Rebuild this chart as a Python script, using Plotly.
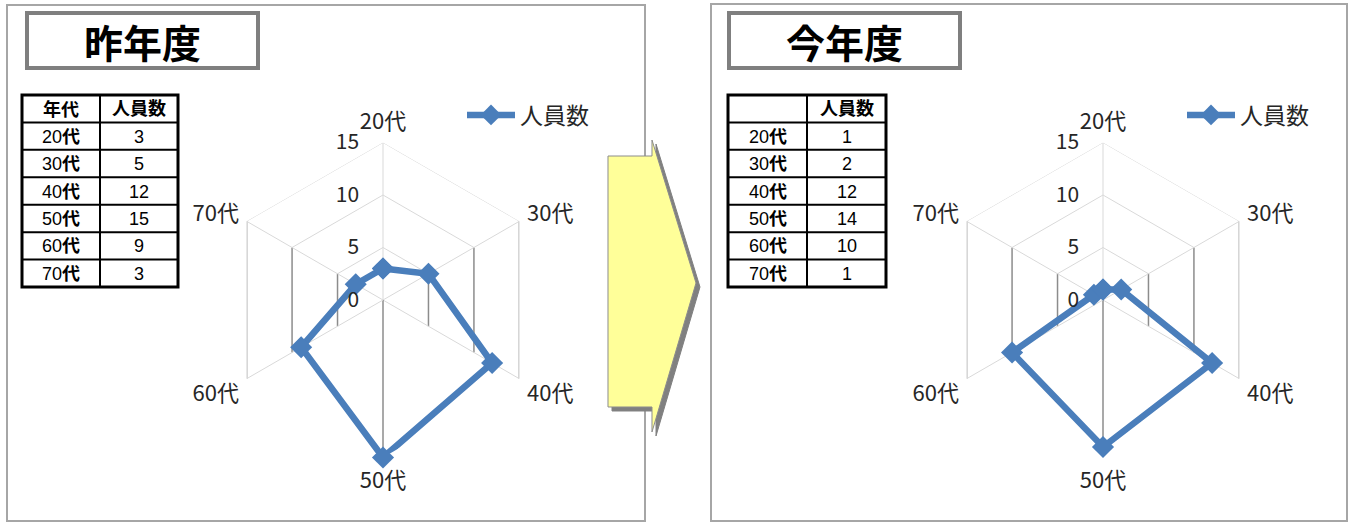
import plotly.graph_objects as go

# ---------------- data ----------------
categories = ["20代", "30代", "40代", "50代", "60代", "70代"]
last_year = [3, 5, 12, 15, 9, 3]
this_year = [1, 2, 12, 14, 10, 1]
tick_vals = [0, 5, 10, 15]
series_name = "人員数"
panel_titles = ["昨年度", "今年度"]
table_head_last = ["年代", "人員数"]
table_head_this = ["", "人員数"]

# ---------------- helpers ----------------
W, H = 1349, 523


def fx(x):
    return x / W


def fy(y):
    return 1 - y / H


LINE = "#4a7ebb"
LIGHT = "#d9d9d9"
DARK = "#8c8c8c"
CJK = "Noto Sans CJK JP"
TBL_FONT = "Liberation Sans, " + CJK

fig = go.Figure()


def add_radar(polar, values, legend):
    for r in tick_vals[1:]:
        fig.add_trace(go.Scatterpolar(
            r=[r, r, r], theta=[categories[5], categories[0], categories[1]],
            mode="lines", line=dict(color=LIGHT, width=1),
            subplot=polar, showlegend=False, hoverinfo="skip"))
        for a, b in [(1, 2), (4, 5)]:
            fig.add_trace(go.Scatterpolar(
                r=[r, r], theta=[categories[a], categories[b]],
                mode="lines", line=dict(color=DARK, width=1.5),
                subplot=polar, showlegend=False, hoverinfo="skip"))
    for i, c in enumerate(categories):
        color = DARK if i == 3 else LIGHT
        fig.add_trace(go.Scatterpolar(
            r=[tick_vals[0], tick_vals[-1]], theta=[c, c],
            mode="lines", line=dict(color=color, width=1.5 if i == 3 else 1),
            subplot=polar, showlegend=False, hoverinfo="skip"))
    fig.add_trace(go.Scatterpolar(
        r=values + [values[0]], theta=categories + [categories[0]],
        mode="lines+markers", line=dict(color=LINE, width=6.5),
        marker=dict(symbol="diamond", size=17, color=LINE),
        name=series_name, legend=legend, subplot=polar, showlegend=True))


add_radar("polar", last_year, "legend")
add_radar("polar2", this_year, "legend2")

shapes = []
annotations = []

# panel borders
for (x0, y0, x1, y1) in [(7, 5, 645, 521), (711, 4, 1347, 521)]:
    shapes.append(dict(type="rect", xref="paper", yref="paper", layer="below",
                       x0=fx(x0), x1=fx(x1), y0=fy(y1), y1=fy(y0),
                       line=dict(color="#a6a6a6", width=2)))

# title boxes
for (x0, x1), t in zip([(27, 258), (729, 960)], panel_titles):
    shapes.append(dict(type="rect", xref="paper", yref="paper",
                       x0=fx(x0), x1=fx(x1), y0=fy(68), y1=fy(13),
                       line=dict(color="#7f7f7f", width=4), fillcolor="white"))
    annotations.append(dict(xref="paper", yref="paper", x=fx((x0 + x1) / 2), y=fy(41),
                            text="<b>" + t + "</b>", showarrow=False,
                            xanchor="center", yanchor="middle",
                            font=dict(family=CJK, size=39, color="black")))


# tables (grid lines + text)
def add_table(x0, xm, x1, y0, y1, head, values):
    n = len(categories) + 1
    rh = (y1 - y0) / n
    for i in range(1, n):
        y = y0 + i * rh
        shapes.append(dict(type="line", xref="paper", yref="paper",
                           x0=fx(x0), x1=fx(x1), y0=fy(y), y1=fy(y),
                           line=dict(color="black", width=2)))
    shapes.append(dict(type="line", xref="paper", yref="paper",
                       x0=fx(xm), x1=fx(xm), y0=fy(y0), y1=fy(y1),
                       line=dict(color="black", width=2)))
    shapes.append(dict(type="rect", xref="paper", yref="paper",
                       x0=fx(x0), x1=fx(x1), y0=fy(y1), y1=fy(y0),
                       line=dict(color="black", width=3)))
    col0 = ["<b>" + head[0] + "</b>" if head[0] else ""] + \
        [c[:-1] + "<b>" + c[-1] + "</b>" for c in categories]
    col1 = ["<b>" + head[1] + "</b>"] + [str(v) for v in values]
    for i in range(n):
        yc = y0 + (i + 0.5) * rh
        for xc, txt in [((x0 + xm) / 2, col0[i]), ((xm + x1) / 2, col1[i])]:
            if txt:
                annotations.append(dict(xref="paper", yref="paper", x=fx(xc), y=fy(yc + 0.5),
                                        text=txt, showarrow=False,
                                        xanchor="center", yanchor="middle",
                                        font=dict(family=TBL_FONT, size=18, color="black")))


add_table(22, 100, 178, 95, 287, table_head_last, last_year)
add_table(728, 807, 886, 95, 287, table_head_this, this_year)

# arrow
arrow_pts = [(608, 156), (652, 156), (652, 140), (696, 283), (652, 432), (652, 407), (608, 407)]


def path(pts, dx=0, dy=0):
    return "M " + " L ".join(f"{fx(x + dx):.5f},{fy(y + dy):.5f}" for x, y in pts) + " Z"


shapes.append(dict(type="path", xref="paper", yref="paper", path=path(arrow_pts, 4, 4),
                   fillcolor="#808080", line=dict(color="#808080", width=1)))
shapes.append(dict(type="path", xref="paper", yref="paper", path=path(arrow_pts),
                   fillcolor="#ffff99", line=dict(color="#8c8c8c", width=1)))


def polar_layout(cx, cy, R):
    return dict(
        domain=dict(x=[fx(cx - R), fx(cx + R)], y=[fy(cy + R), fy(cy - R)]),
        bgcolor="rgba(0,0,0,0)",
        gridshape="linear",
        angularaxis=dict(rotation=90, direction="clockwise", type="category",
                         categoryarray=categories, showgrid=False, showline=False,
                         ticks="outside", ticklen=4, tickcolor="rgba(0,0,0,0)",
                         tickfont=dict(family=CJK, size=22, color="#262626")),
        radialaxis=dict(range=[tick_vals[0], tick_vals[-1]], tickvals=tick_vals,
                        showgrid=False, showline=False, ticks="outside", ticklen=16,
                        tickcolor="rgba(0,0,0,0)", angle=90,
                        tickangle=90, side="counterclockwise",
                        tickfont=dict(family=CJK, size=21, color="#262626")),
    )


legend_common = dict(xanchor="left", yanchor="middle", bgcolor="rgba(0,0,0,0)",
                     itemwidth=48,
                     font=dict(family=CJK, size=23, color="#262626"))

fig.update_layout(
    width=W, height=H,
    margin=dict(l=0, r=0, t=0, b=0),
    paper_bgcolor="white",
    plot_bgcolor="white",
    polar=polar_layout(383, 300, 157.5),
    polar2=polar_layout(1103, 300, 157.5),
    legend=dict(x=fx(462), y=fy(115), **legend_common),
    legend2=dict(x=fx(1182), y=fy(115), **legend_common),
    shapes=shapes,
    annotations=annotations,
)

fig.write_html("out.html")
